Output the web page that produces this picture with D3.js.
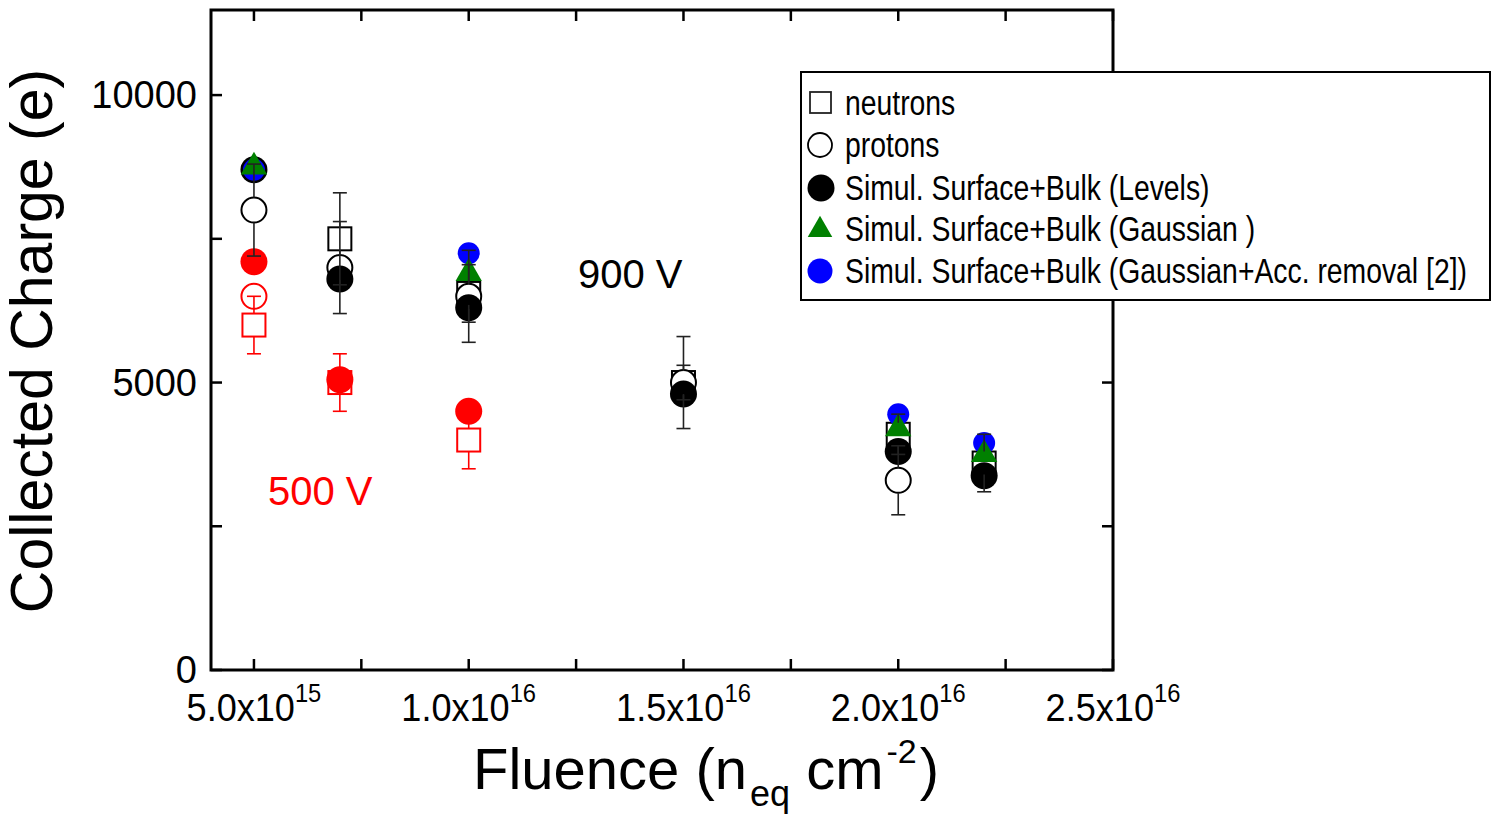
<!DOCTYPE html>
<html>
<head>
<meta charset="utf-8">
<script src="https://cdn.jsdelivr.net/npm/d3@7"></script>
<style>
body { margin: 0; background: #fff; }
text { font-family: "Liberation Sans", Arial, sans-serif; }
</style>
</head>
<body>
<div id="chart"></div>
<script>
// 900 V series
var neutrons900X = [7e15, 1e16, 1.5e16, 2e16, 2.2e16];
var neutrons900Y = [7500, 6550, 5000, 4100, 3600];
var neutrons900Err = [800, 500, 300, 350, 500];
var protons900X = [5e15, 7e15, 1e16, 1.5e16, 2e16];
var protons900Y = [8000, 7000, 6500, 5000, 3300];
var protons900Err = [800, 800, 800, 800, 600];
var levels900X = [5e15, 7e15, 1e16, 1.5e16, 2e16, 2.2e16];
var levels900Y = [8700, 6800, 6300, 4800, 3800, 3380];
var gaussX = [5e15, 1e16, 2e16, 2.2e16];
var gaussY = [8750, 6900, 4200, 3750];
var gaussAccX = [5e15, 1e16, 2e16, 2.2e16];
var gaussAccY = [8700, 7250, 4450, 3950];

// 500 V series
var neutrons500X = [5e15, 7e15, 1e16];
var neutrons500Y = [6000, 5000, 4000];
var neutrons500Err = [500, 500, 500];
var protons500X = [5e15];
var protons500Y = [6500];
var levels500X = [5e15, 7e15, 1e16];
var levels500Y = [7100, 5050, 4500];

var xTicks = [5e15, 1e16, 1.5e16, 2e16, 2.5e16];
var xTickMant = ["5.0x10", "1.0x10", "1.5x10", "2.0x10", "2.5x10"];
var xTickExp = ["15", "16", "16", "16", "16"];
var xMinor = [7.5e15, 1.25e16, 1.75e16, 2.25e16];
var yTicks = [0, 5000, 10000];
var yMinor = [2500, 7500];

var legendNames = ["neutrons", "protons", "Simul. Surface+Bulk (Levels)",
    "Simul. Surface+Bulk (Gaussian )", "Simul. Surface+Bulk (Gaussian+Acc. removal [2])"];

var width = 1493, height = 815;
var plot = { left: 211, right: 1113, top: 10, bottom: 670 };

var svg = d3.select("#chart").append("svg")
    .attr("width", width)
    .attr("height", height);

var x = d3.scaleLinear().domain([4e15, 2.5e16]).range([plot.left, plot.right]);
var y = d3.scaleLinear().domain([0, 11480]).range([plot.bottom, plot.top]);

function zip(xs, ys, errs) {
    return xs.map(function(d, i) {
        return { x: d, y: ys[i], err: errs ? errs[i] : 0 };
    });
}

var sqSize = 23, circR = 12.5, fillR = 13.5, blueR = 11;

function drawSquares(data, col) {
    svg.append("g").selectAll("rect")
        .data(data).enter().append("rect")
        .attr("x", function(d) { return x(d.x) - sqSize / 2; })
        .attr("y", function(d) { return y(d.y) - sqSize / 2; })
        .attr("width", sqSize)
        .attr("height", sqSize)
        .attr("fill", "#fff")
        .attr("stroke", col)
        .attr("stroke-width", 2);
}

function drawOpenCircles(data, col) {
    svg.append("g").selectAll("circle")
        .data(data).enter().append("circle")
        .attr("cx", function(d) { return x(d.x); })
        .attr("cy", function(d) { return y(d.y); })
        .attr("r", circR)
        .attr("fill", "#fff")
        .attr("stroke", col)
        .attr("stroke-width", 2);
}

function drawDots(data, col, r) {
    svg.append("g").selectAll("circle")
        .data(data).enter().append("circle")
        .attr("cx", function(d) { return x(d.x); })
        .attr("cy", function(d) { return y(d.y); })
        .attr("r", r)
        .attr("fill", col);
}

function drawTriangles(data, col) {
    svg.append("g").selectAll("path")
        .data(data).enter().append("path")
        .attr("d", d3.symbol().type(d3.symbolTriangle).size(300))
        .attr("transform", function(d) { return "translate(" + x(d.x) + "," + y(d.y) + ")"; })
        .attr("fill", col);
}

// error bars start at the symbol edge (Origin style)
function drawErrors(data, col, edge) {
    var g = svg.append("g").attr("stroke", col).attr("stroke-width", 1.6);
    data.forEach(function(d) {
        if (!d.err) return;
        var cx = x(d.x), cy = y(d.y);
        var top = y(d.y + d.err), bot = y(d.y - d.err);
        if (cy - edge > top) {
            g.append("line").attr("x1", cx).attr("x2", cx).attr("y1", cy - edge).attr("y2", top);
        }
        g.append("line").attr("x1", cx - 7).attr("x2", cx + 7).attr("y1", top).attr("y2", top);
        if (cy + edge < bot) {
            g.append("line").attr("x1", cx).attr("x2", cx).attr("y1", cy + edge).attr("y2", bot);
        }
        g.append("line").attr("x1", cx - 7).attr("x2", cx + 7).attr("y1", bot).attr("y2", bot);
    });
}

var n500 = zip(neutrons500X, neutrons500Y, neutrons500Err);
var p500 = zip(protons500X, protons500Y);
var l500 = zip(levels500X, levels500Y);
var n900 = zip(neutrons900X, neutrons900Y, neutrons900Err);
var p900 = zip(protons900X, protons900Y, protons900Err);
var l900 = zip(levels900X, levels900Y);
var ga = zip(gaussX, gaussY);
var gaa = zip(gaussAccX, gaussAccY);

drawSquares(n500, "red");
drawOpenCircles(p500, "red");
drawDots(l500, "red", fillR);
drawSquares(n900, "#000");
drawOpenCircles(p900, "#000");
drawDots(l900, "#000", fillR);
drawDots(gaa, "blue", blueR);
drawTriangles(ga, "green");
drawErrors(n500, "red", sqSize / 2);
drawErrors(n900, "#222", sqSize / 2);
drawErrors(p900, "#222", circR);

// frame and ticks
svg.append("rect")
    .attr("x", plot.left).attr("y", plot.top)
    .attr("width", plot.right - plot.left).attr("height", plot.bottom - plot.top)
    .attr("fill", "none").attr("stroke", "#000").attr("stroke-width", 3);

var tickLen = 11;
var ticks = svg.append("g").attr("stroke", "#000").attr("stroke-width", 2.5);
xTicks.concat(xMinor).forEach(function(t) {
    ticks.append("line").attr("x1", x(t)).attr("x2", x(t)).attr("y1", plot.bottom).attr("y2", plot.bottom - tickLen);
    ticks.append("line").attr("x1", x(t)).attr("x2", x(t)).attr("y1", plot.top).attr("y2", plot.top + tickLen);
});
yTicks.concat(yMinor).forEach(function(t) {
    ticks.append("line").attr("x1", plot.left).attr("x2", plot.left + tickLen).attr("y1", y(t)).attr("y2", y(t));
    ticks.append("line").attr("x1", plot.right).attr("x2", plot.right - tickLen).attr("y1", y(t)).attr("y2", y(t));
});

// y tick labels
svg.append("g").selectAll("text")
    .data(yTicks).enter().append("text")
    .attr("x", 197)
    .attr("y", function(d) { return y(d) + 13; })
    .attr("text-anchor", "end")
    .style("font-size", "38px")
    .text(function(d) { return d; });

// x tick labels
xTicks.forEach(function(t, i) {
    var g = svg.append("g").attr("transform", "translate(" + x(t) + ",721) scale(0.95,1)");
    var tx = g.append("text").attr("text-anchor", "middle").style("font-size", "38px");
    tx.append("tspan").text(xTickMant[i]);
    tx.append("tspan").attr("dy", -19).style("font-size", "25px").text(xTickExp[i]);
});

// axis titles
svg.append("text")
    .attr("transform", "translate(52,341) rotate(-90)")
    .attr("text-anchor", "middle")
    .style("font-size", "59px")
    .text("Collected Charge (e)");

var xt = svg.append("text")
    .attr("x", 473).attr("y", 789)
    .style("font-size", "58px");
xt.append("tspan").text("Fluence (n");
xt.append("tspan").attr("dx", 3).attr("dy", 17).style("font-size", "36px").text("eq");
xt.append("tspan").attr("dy", -17).text(" cm");
xt.append("tspan").attr("dx", 3).attr("dy", -26).style("font-size", "34px").text("-2");
xt.append("tspan").attr("dx", 3).attr("dy", 26).text(")");

// voltage annotations
svg.append("text").attr("x", 578).attr("y", 288).style("font-size", "40px").text("900 V");
svg.append("text").attr("x", 268).attr("y", 505).style("font-size", "40px").attr("fill", "red").text("500 V");

// legend
var legend = svg.append("g");
legend.append("rect")
    .attr("x", 801).attr("y", 72).attr("width", 689).attr("height", 228)
    .attr("fill", "#fff").attr("stroke", "#000").attr("stroke-width", 2);
var rowY = [103, 145, 188, 229, 271];
legend.append("rect").attr("x", 810).attr("y", rowY[0] - 11).attr("width", 21).attr("height", 21)
    .attr("fill", "#fff").attr("stroke", "#222").attr("stroke-width", 1.8);
legend.append("circle").attr("cx", 820).attr("cy", rowY[1]).attr("r", 12)
    .attr("fill", "#fff").attr("stroke", "#000").attr("stroke-width", 1.8);
legend.append("circle").attr("cx", 821).attr("cy", rowY[2]).attr("r", 13.5).attr("fill", "#000");
legend.append("path").attr("d", d3.symbol().type(d3.symbolTriangle).size(260))
    .attr("transform", "translate(820," + (rowY[3] + 1) + ")").attr("fill", "green");
legend.append("circle").attr("cx", 820).attr("cy", rowY[4]).attr("r", 12.5).attr("fill", "blue");
legendNames.forEach(function(name, i) {
    legend.append("text")
        .attr("transform", "translate(845," + (rowY[i] + 12) + ") scale(0.81,1)")
        .style("font-size", "35px")
        .text(name);
});
</script>
</body>
</html>
